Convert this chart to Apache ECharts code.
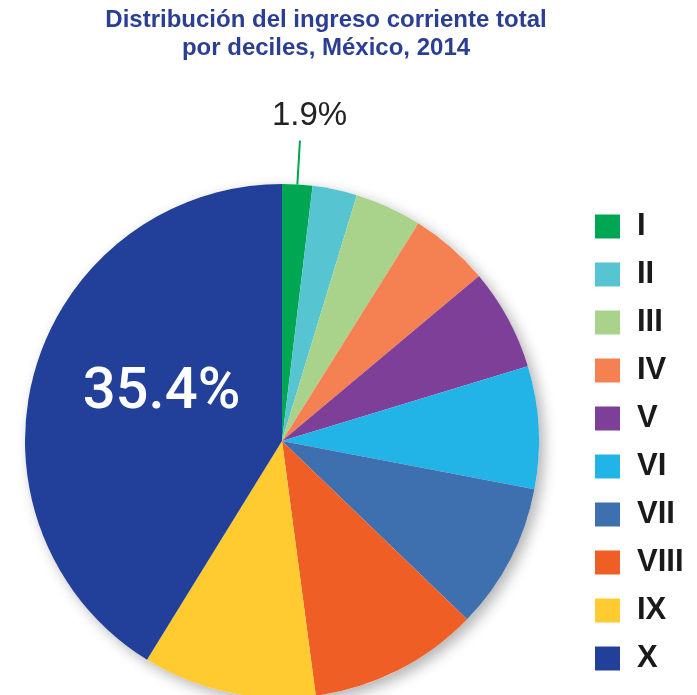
<!DOCTYPE html>
<html>
<head>
<meta charset="utf-8">
<script src="https://cdn.jsdelivr.net/npm/echarts@6/dist/echarts.min.js"></script>
<style>
  html, body { margin: 0; padding: 0; background: #fff; }
  #cont { width: 697px; height: 695px; }
</style>
</head>
<body>
<div id="cont"></div>
<script>
// deciles y su participación
var deciles = ['I', 'II', 'III', 'IV', 'V', 'VI', 'VII', 'VIII', 'IX', 'X'];
var shares = [1.9, 2.8, 4.2, 5.0, 6.4, 7.7, 9.2, 10.7, 10.9, 41.2];
// textos impresos en la figura
var printed = ['1.9%', '', '', '', '', '', '', '', '', '35.4%'];
var colors = ['#00a651', '#56c5d1', '#a9d38b', '#f58152', '#7d3f97',
              '#23b4e7', '#3e6fae', '#ef5f25', '#ffcb30', '#22409a'];

var myChart = echarts.init(document.getElementById('cont'));

var data = deciles.map(function (d, i) {
  var item = { name: d, value: shares[i], itemStyle: { color: colors[i] } };
  if (i === 0) {
    item.label = {
      show: true, position: 'outside', formatter: printed[i],
      fontSize: 33, color: '#222', fontFamily: 'Liberation Sans'
    };
    item.labelLine = { show: true, length: 44, length2: 0, lineStyle: { color: '#00a651', width: 2 } };
  } else if (i === 9) {
    item.label = {
      show: true, position: 'inside', formatter: printed[i],
      fontSize: 58, color: '#fff', fontFamily: 'Roboto', fontWeight: 500
    };
  } else {
    item.label = { show: false };
    item.labelLine = { show: false };
  }
  return item;
});

var option = {
  animation: false,
  title: {
    text: 'Distribución del ingreso corriente total\npor deciles, México, 2014',
    left: 326,
    top: 6,
    textAlign: 'center',
    padding: 0,
    textStyle: {
      color: '#2a3e93',
      fontSize: 24,
      fontWeight: 'bold',
      lineHeight: 28,
      fontFamily: 'Liberation Sans'
    }
  },
  legend: {
    orient: 'vertical',
    left: 590,
    top: 206,
    itemWidth: 25,
    itemHeight: 24,
    itemGap: 17,
    icon: 'rect',
    data: deciles,
    textStyle: {
      fontSize: 31,
      fontWeight: 'bold',
      color: '#1a1a1a',
      fontFamily: 'Liberation Sans',
      padding: [0, 0, 0, 12]
    }
  },
  series: [
    {
      // sombra del disco
      type: 'pie',
      silent: true,
      center: [282, 441],
      radius: 257,
      z: 1,
      label: { show: false },
      labelLine: { show: false },
      itemStyle: {
        color: '#fff',
        shadowBlur: 14,
        shadowOffsetX: 5,
        shadowOffsetY: 5,
        shadowColor: 'rgba(0,0,0,0.3)'
      },
      data: [{ value: 1, name: 'sombra' }]
    },
    {
      type: 'pie',
      center: [282, 441],
      radius: 257,
      startAngle: 90,
      clockwise: true,
      z: 2,
      avoidLabelOverlap: false,
      itemStyle: { borderWidth: 0 },
      labelLayout: function (params) {
        if (params.dataIndex === 0) return { dx: -33, dy: -25 };
        if (params.dataIndex === 9) return { dx: 6, dy: -12 };
        return {};
      },
      data: data
    }
  ]
};

myChart.setOption(option);
</script>
</body>
</html>
